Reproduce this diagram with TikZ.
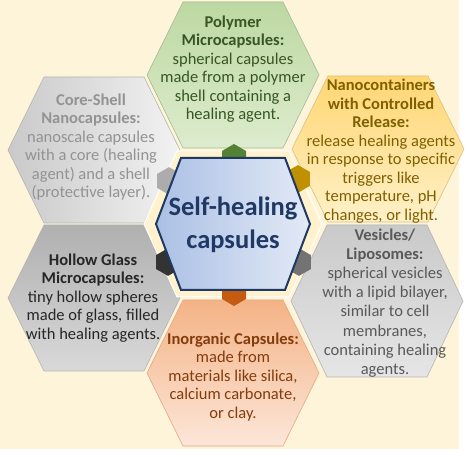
\documentclass[tikz,border=0pt]{standalone}
\usepackage{fontspec}
\setmainfont{Carlito}
\definecolor{bgcream}{HTML}{FDF4DA}
\definecolor{framecream}{HTML}{FFF2CC}
\definecolor{greenTop}{HTML}{BDD8A2}
\definecolor{greenBot}{HTML}{DDECCE}
\definecolor{greenEdge}{HTML}{A3B993}
\definecolor{greenText}{HTML}{375623}
\definecolor{greenArrow}{HTML}{548235}
\definecolor{goldTop}{HTML}{FFD672}
\definecolor{goldBot}{HTML}{FFF1C9}
\definecolor{goldEdge}{HTML}{DCC07E}
\definecolor{goldText}{HTML}{7F6000}
\definecolor{goldArrow}{HTML}{BF9000}
\definecolor{orTop}{HTML}{F4B385}
\definecolor{orBot}{HTML}{FCE6D9}
\definecolor{orEdge}{HTML}{E2A882}
\definecolor{orText}{HTML}{843C0C}
\definecolor{orArrow}{HTML}{C55A11}
\definecolor{csText}{HTML}{939393}
\definecolor{hgText}{HTML}{262626}
\definecolor{vsText}{HTML}{595959}
\definecolor{grayEdge}{HTML}{B4B4B4}
\definecolor{blueA}{HTML}{ABC0E5}
\definecolor{blueB}{HTML}{E3EAF6}
\definecolor{blueEdge}{HTML}{203864}
\definecolor{blueText}{HTML}{1F3864}
\newcommand\HexPath[3]{(-#1,0) -- (-#2,-#3) -- (#2,-#3) -- (#1,0) -- (#2,#3) -- (-#2,#3) -- cycle}
\newcommand\ArrowPath{(0,0) -- (-7,-12) -- (-22,-12) -- (-22,12) -- (-7,12) -- cycle}
\begin{document}
\begin{tikzpicture}[x=1pt,y=-1pt,
  bodytext/.style={align=center, inner sep=0pt,
    font=\fontsize{16.5}{18.5}\selectfont},
  titletext/.style={align=center, inner sep=0pt,
    font=\fontsize{26.5}{33}\selectfont\bfseries, text=blueText},
  hexedge/.style={draw=#1, line width=0.6pt}]
\useasboundingbox (0,0) rectangle (467,457);
\fill[white] (0,0) rectangle (467,457);
\fill[bgcream] (0,0) rectangle (459,449);

% outer hexagons
\begin{scope}[shift={(233,75)}]
  \shade[top color=greenTop, bottom color=greenBot, hexedge=greenEdge] \HexPath{86}{50}{73};
\end{scope}
\begin{scope}[shift={(94,150)}]
  \shade[left color=gray!42, right color=gray!10, hexedge=grayEdge] \HexPath{86}{50}{73};
\end{scope}
\begin{scope}[shift={(378,149)}]
  \shade[top color=goldTop, bottom color=goldBot, hexedge=goldEdge] \HexPath{86}{50}{73};
\end{scope}
\begin{scope}[shift={(94,298)}]
  \shade[shading angle=210, top color=gray!62, bottom color=gray!30, hexedge=grayEdge] \HexPath{86}{50}{73};
\end{scope}
\begin{scope}[shift={(377,301)}]
  \shade[top color=gray!42, bottom color=gray!20, hexedge=grayEdge] \HexPath{86}{50}{76};
\end{scope}
\begin{scope}[shift={(233,373)}]
  \shade[top color=orTop, bottom color=orBot, hexedge=orEdge] \HexPath{86}{50}{73};
\end{scope}

% central frame
\coordinate (C) at (233,224);
\begin{scope}[shift={(C)}]
  \fill[framecream, draw=white, line width=1pt] \HexPath{89}{56}{73};
\end{scope}

% arrows
\begin{scope}[shift={(234,144)}, rotate=90]
  \fill[greenArrow] \ArrowPath;
\end{scope}
\begin{scope}[shift={(234,306)}, rotate=-90]
  \fill[orArrow] \ArrowPath;
\end{scope}
\begin{scope}[shift={(310,172)}, rotate=30]
  \fill[goldArrow] \ArrowPath;
\end{scope}
\begin{scope}[shift={(157,174)}, rotate=150]
  \fill[gray!65] \ArrowPath;
\end{scope}
\begin{scope}[shift={(156,269)}, rotate=210]
  \fill[black!80] \ArrowPath;
\end{scope}
\begin{scope}[shift={(311,269)}, rotate=-30]
  \fill[black!55] \ArrowPath;
\end{scope}

% central hexagon
\begin{scope}[shift={(C)}]
  \shade[shading angle=-60, left color=blueA, right color=blueB, draw=blueEdge, line width=2pt] \HexPath{77}{52}{66};
\end{scope}

% texts
\node[titletext] (center) at (233,225) {Self-healing\\capsules};

\node[bodytext, text=greenText] (polymer) at (233,69)
  {\textbf{Polymer}\\\textbf{Microcapsules:}\\spherical capsules\\made from a polymer\\shell containing a\\healing agent.};
\node[bodytext, text=csText] (coreshell) at (91,147)
  {\textbf{Core-Shell}\\\textbf{Nanocapsules:}\\nanoscale capsules\\with a core (healing\\agent) and a shell\\(protective layer).};
\node[bodytext, text=goldText] (nano) at (381,151)
  {\textbf{Nanocontainers}\\\textbf{with Controlled}\\\textbf{Release:}\\release healing agents\\in response to specific\\triggers like\\temperature, pH\\changes, or light.};
\node[bodytext, text=hgText] (hollow) at (93,298)
  {\textbf{Hollow Glass}\\\textbf{Microcapsules:}\\tiny hollow spheres\\made of glass, filled\\with healing agents.};
\node[bodytext, text=vsText, font=\fontsize{16.5}{19.2}\selectfont] (vesicles) at (385,303)
  {\textbf{Vesicles/}\\\textbf{Liposomes:}\\spherical vesicles\\with a lipid bilayer,\\similar to cell\\membranes,\\containing healing\\agents.};
\node[bodytext, text=orText] (inorganic) at (233,377)
  {\textbf{Inorganic Capsules:}\\made from\\materials like silica,\\calcium carbonate,\\or clay.};
\end{tikzpicture}
\end{document}
